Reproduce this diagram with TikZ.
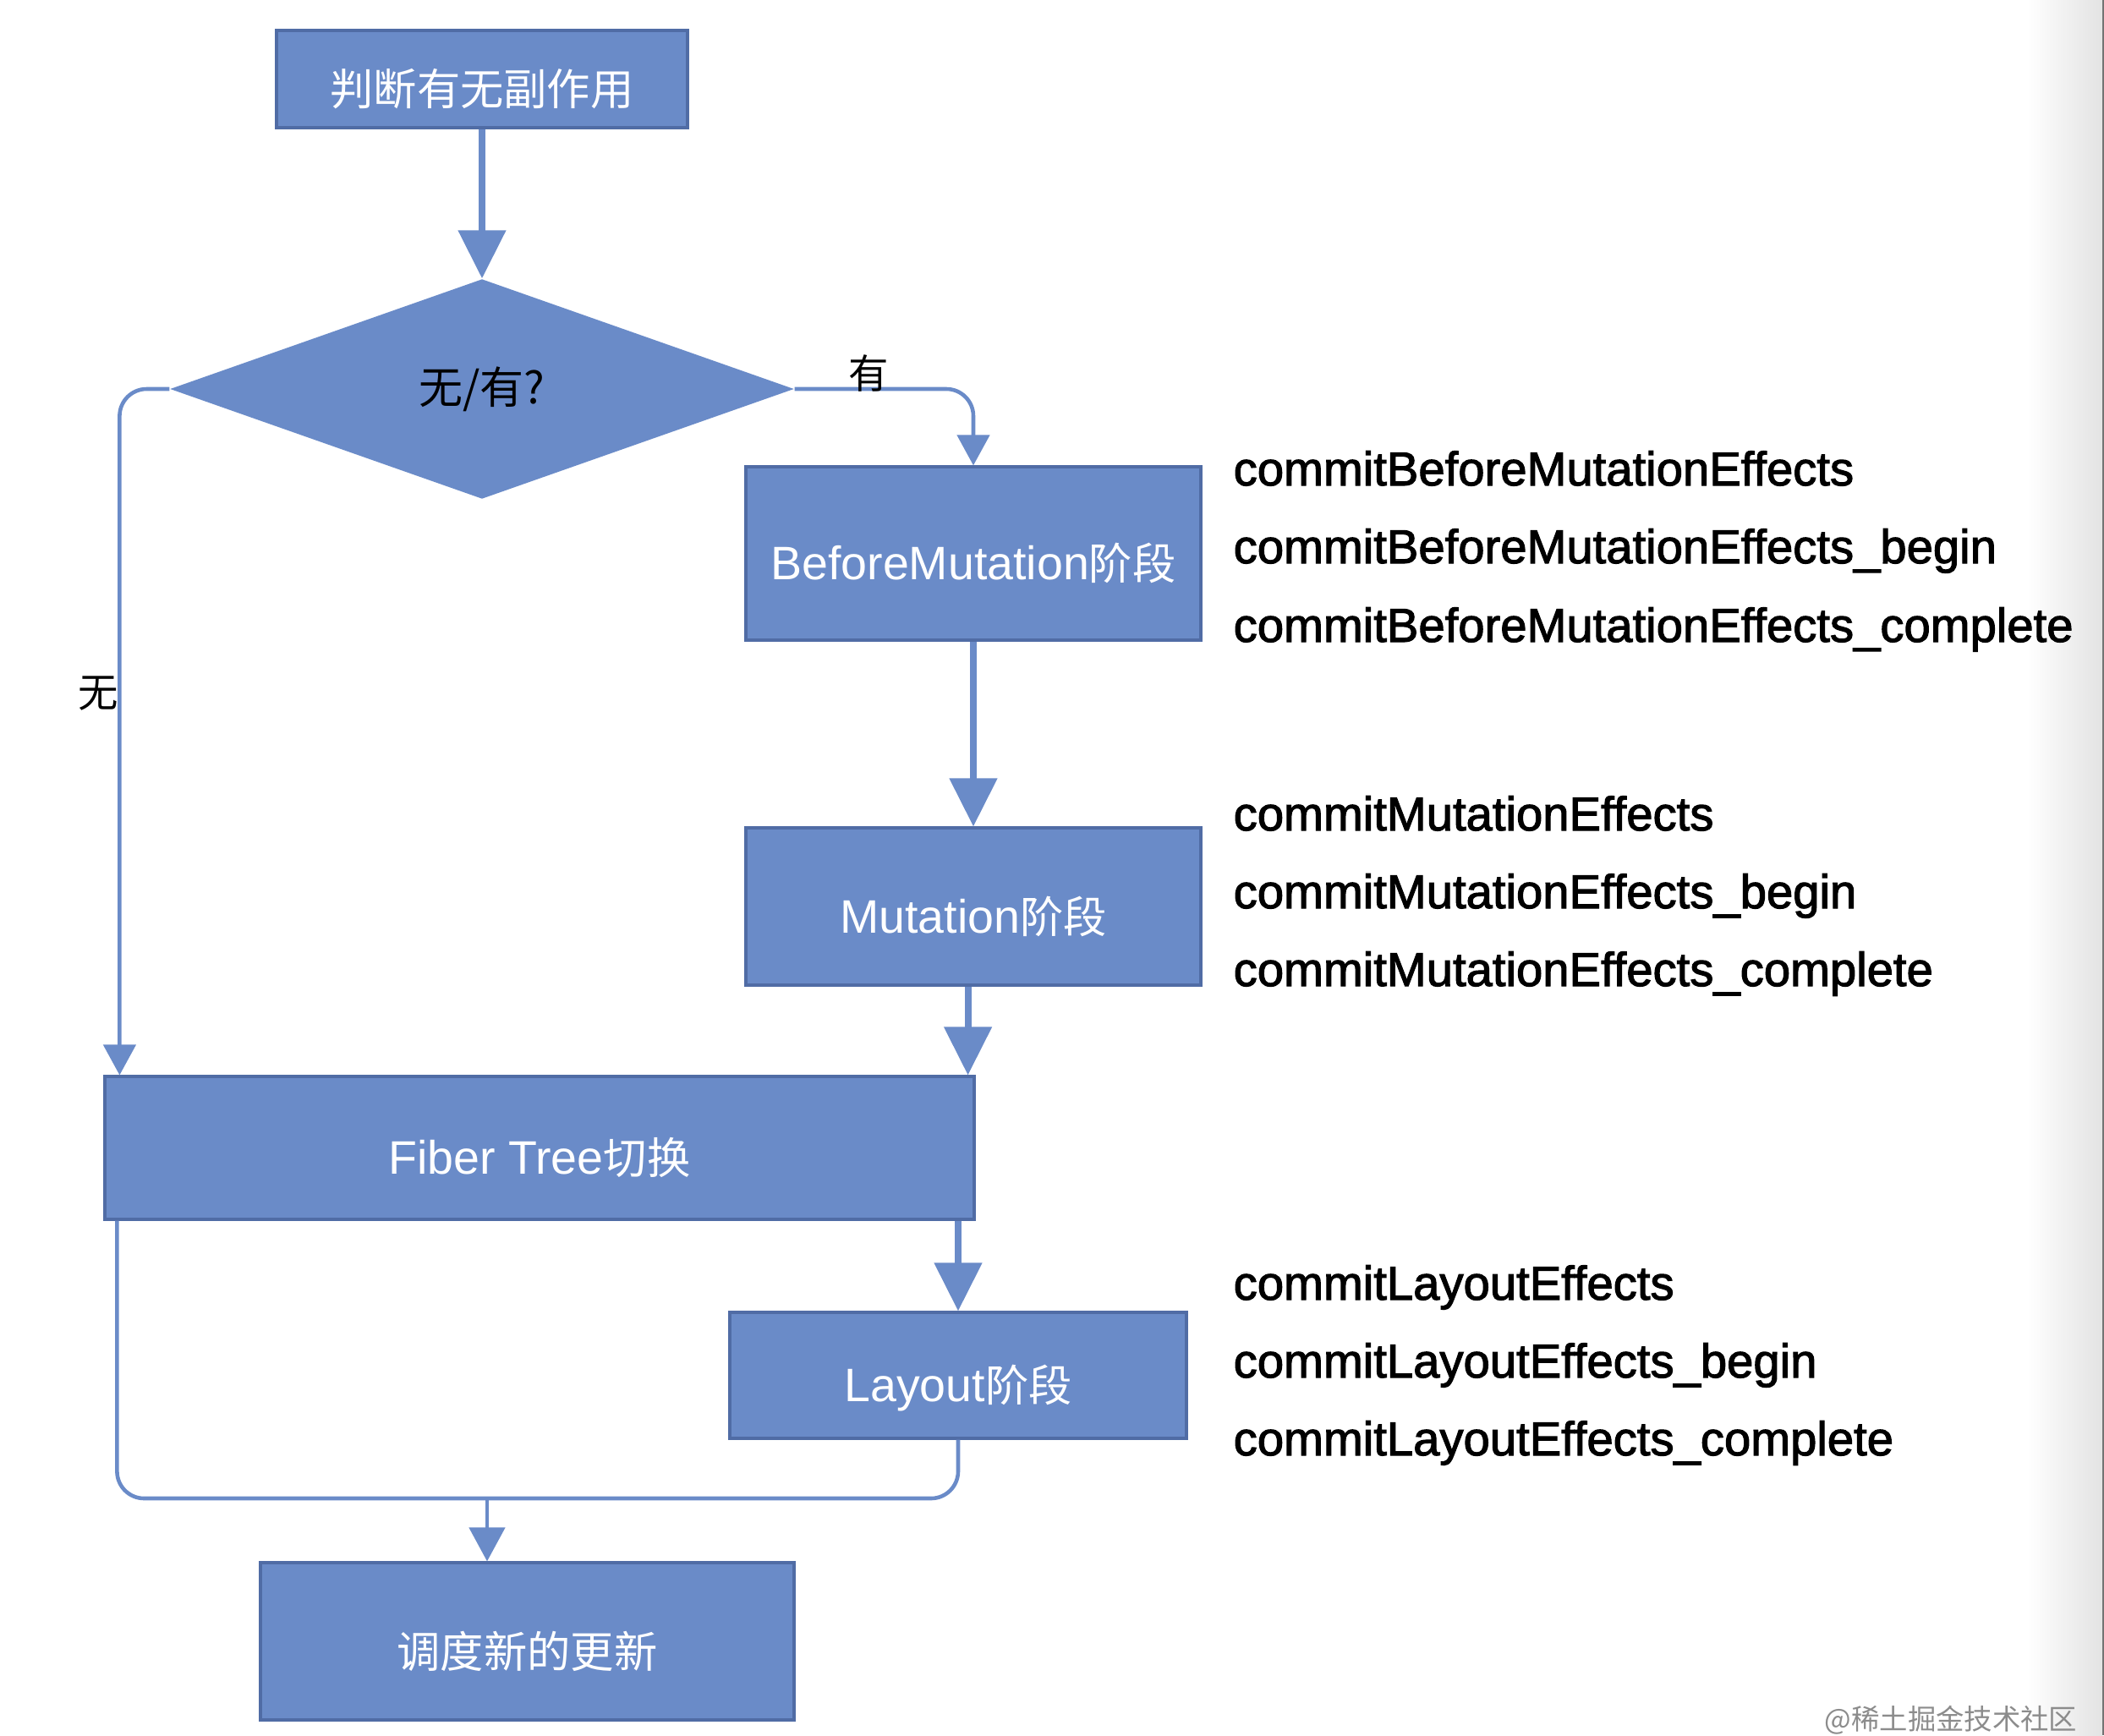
\documentclass[tikz,border=0pt]{standalone}
\usepackage{fontspec}
\setmainfont{Liberation Sans}
\newfontfamily\cjk{Noto Sans CJK SC}
\newfontfamily\fnfont[FakeBold=2]{Liberation Sans}
\newcommand{\zh}[1]{{\cjk\fontsize{14.6}{17}\selectfont #1}}
\usepackage{tikz}
\usetikzlibrary{shapes,arrows.meta,positioning,calc}

\definecolor{boxblue}{RGB}{106,139,200}
\definecolor{edgeblue}{RGB}{80,108,165}

\begin{document}
\begin{tikzpicture}[
    stage/.style={rectangle, draw=edgeblue, fill=boxblue, line width=0.9pt, text=white, inner sep=0pt, text height=0.62cm, text depth=0pt, font=\fontsize{15.8}{18}\selectfont},
    choice/.style={diamond, fill=boxblue, inner sep=0pt, font=\cjk\fontsize{14.8}{17}\selectfont},
    mainflow/.style={-{Triangle[width=0.55cm,length=0.57cm]}, line width=2.3pt, draw=boxblue},
    sideflow/.style={-{Triangle[width=0.38cm,length=0.36cm]}, line width=1.3pt, draw=boxblue, rounded corners=0.32cm},
    fn/.style={anchor=base west, inner sep=0pt, font=\fnfont\fontsize{16}{19}\selectfont},
    branch/.style={font=\cjk\fontsize{13.5}{16}\selectfont}
]
    \useasboundingbox (0,0) rectangle (24.88,-20.52);

    % screenshot edge
    \shade[left color=white, right color=black!11] (23.97,0) rectangle (24.86,-20.52);
    \fill[black!55] (24.86,0) rectangle (24.88,-20.52);

    % Stages
    \node[stage, minimum width=4.86cm, minimum height=1.15cm] (judge) at (5.70,-0.935) {\zh{判断有无副作用}};
    \node[choice, minimum width=7.38cm, minimum height=2.60cm] (decide) at (5.70,-4.60) {无/有?};
    \node[stage, minimum width=5.38cm, minimum height=2.05cm] (before) at (11.51,-6.545) {BeforeMutation\zh{阶段}};
    \node[stage, minimum width=5.38cm, minimum height=1.86cm] (mutation) at (11.51,-10.72) {Mutation\zh{阶段}};
    \node[stage, minimum width=10.28cm, minimum height=1.69cm] (fiber) at (6.38,-13.575) {Fiber Tree\zh{切换}};
    \node[stage, minimum width=5.40cm, minimum height=1.49cm] (layout) at (11.33,-16.265) {Layout\zh{阶段}};
    \node[stage, minimum width=6.31cm, minimum height=1.86cm] (sched) at (6.235,-19.41) {\zh{调度新的更新}};

    % Flow
    \draw[mainflow] (judge.south) -- (decide.north);
    \draw[sideflow] (decide.east) -| (before.north);
    \node[branch] (yes) at (10.27,-4.41) {有};
    \draw[sideflow] (decide.west) -| ([xshift=0.19cm]fiber.north west);
    \node[branch] (no) at (1.16,-8.20) {无};
    \draw[mainflow] (before.south) -- (mutation.north);
    \coordinate (fiberIn) at ([xshift=-0.09cm]fiber.north east);
    \draw[mainflow] (mutation.south -| fiberIn) -- (fiberIn);
    \draw[mainflow] (fiber.south -| layout.north) -- (layout.north);

    % Merge
    \coordinate (merge) at (5.76,-17.72);
    \draw[sideflow, -] ([xshift=0.16cm]fiber.south west) |- (merge) -| (layout.south);
    \draw[sideflow, -{Triangle[width=0.42cm,length=0.40cm]}] (merge) -- (merge |- sched.north);

    % Functions of each stage
    \node[fn] (cbm) at (14.58,-5.74) {commitBeforeMutationEffects};
    \node[fn] (cbmBegin) at (14.58,-6.66) {commitBeforeMutationEffects\_begin};
    \node[fn] (cbmDone) at (14.58,-7.59) {commitBeforeMutationEffects\_complete};
    \node[fn] (cm) at (14.58,-9.82) {commitMutationEffects};
    \node[fn] (cmBegin) at (14.58,-10.74) {commitMutationEffects\_begin};
    \node[fn] (cmDone) at (14.58,-11.66) {commitMutationEffects\_complete};
    \node[fn] (cl) at (14.58,-15.37) {commitLayoutEffects};
    \node[fn] (clBegin) at (14.58,-16.29) {commitLayoutEffects\_begin};
    \node[fn] (clDone) at (14.58,-17.21) {commitLayoutEffects\_complete};

    \node[font=\cjk\fontsize{9.5}{11}\selectfont, text=black!45] (mark) at (23.07,-20.34) {@稀土掘金技术社区};
\end{tikzpicture}
\end{document}
